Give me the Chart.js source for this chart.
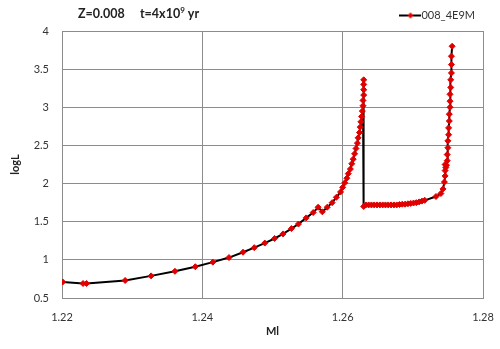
<!DOCTYPE html>
<html>
<head>
<meta charset="utf-8">
<script src="https://cdn.jsdelivr.net/npm/chart.js@4"></script>
<style>
  html, body { margin: 0; padding: 0; background: #fff; }
  #wrap { width: 500px; height: 349px; }
</style>
</head>
<body>
<div id="wrap"><canvas id="chart" width="500" height="349"></canvas></div>
<script>
// Mass (Ml) and luminosity (logL) along the track
const massValues = [
    1.2201, 1.2230, 1.2235, 1.2290, 1.2327, 1.2361, 1.2390, 1.2415, 1.2438, 1.2458,
    1.2474, 1.2489, 1.2503, 1.2515, 1.2527, 1.2537, 1.2548, 1.2558, 1.2565, 1.2571,
    1.2578, 1.2585, 1.2591,
    1.2597, 1.2600, 1.2603, 1.2606, 1.2608, 1.2611, 1.2613, 1.2615, 1.2617, 1.2619,
    1.2621, 1.2622, 1.2624, 1.2625, 1.2626, 1.2627, 1.2628, 1.2629, 1.2629, 1.2630,
    1.2630, 1.2630, 1.2630,
    1.2630, 1.2633,
    1.2637, 1.2641, 1.2645, 1.2649, 1.2653, 1.2657, 1.2661, 1.2665, 1.2669, 1.2673,
    1.2677, 1.2681, 1.2685, 1.2689, 1.2693, 1.2697, 1.2701, 1.2705, 1.2709, 1.2713,
    1.2717,
    1.2733, 1.2740, 1.2743, 1.2745, 1.2746, 1.2746, 1.2747, 1.2746, 1.2748, 1.2749,
    1.2749, 1.2750, 1.2750, 1.2751, 1.2751, 1.2752, 1.2752, 1.2753, 1.2753, 1.2753,
    1.2754, 1.2754, 1.2755, 1.2755, 1.2755, 1.2756
];
const logLValues = [
    0.71, 0.69, 0.69, 0.73, 0.79, 0.85, 0.91, 0.97, 1.03, 1.10,
    1.16, 1.22, 1.28, 1.34, 1.41, 1.47, 1.55, 1.62, 1.69, 1.63,
    1.69, 1.75, 1.82,
    1.89, 1.95, 2.01, 2.07, 2.13, 2.19, 2.26, 2.32, 2.39, 2.46,
    2.53, 2.60, 2.67, 2.74, 2.81, 2.88, 2.95, 3.02, 3.09, 3.16,
    3.23, 3.30, 3.36,
    1.70, 1.72,
    1.72, 1.72, 1.72, 1.72, 1.72, 1.72, 1.72, 1.72, 1.72, 1.72,
    1.72, 1.725, 1.73, 1.73, 1.735, 1.74, 1.745, 1.75, 1.76, 1.77,
    1.78,
    1.83, 1.87, 1.93, 2.02, 2.10, 2.17, 2.21, 2.25, 2.24, 2.30,
    2.38, 2.47, 2.56, 2.64, 2.73, 2.82, 2.91, 3.00, 3.08, 3.17,
    3.26, 3.36, 3.45, 3.56, 3.67, 3.80
];
const seriesName = '008_4E9M';
const xTicks = [1.22, 1.24, 1.26, 1.28];
const yTicks = [0.5, 1, 1.5, 2, 2.5, 3, 3.5, 4];

const FONT = 'Lato, "Open Sans", sans-serif';
const TEXT = '#333333';
const GRID = '#8c8c8c';

// legend symbol: black line with a red diamond in the middle
function legendSymbol() {
    const c = document.createElement('canvas');
    c.width = 22; c.height = 8;
    const g = c.getContext('2d');
    g.strokeStyle = '#000'; g.lineWidth = 2;
    g.beginPath(); g.moveTo(0, 4); g.lineTo(22, 4); g.stroke();
    g.fillStyle = '#e00000';
    g.beginPath(); g.moveTo(11, 1); g.lineTo(14, 4); g.lineTo(11, 7); g.lineTo(8, 4); g.closePath(); g.fill();
    return c;
}

// bold title with superscript, top-left
const titlePlugin = {
    id: 'trackTitle',
    afterDraw(chart) {
        const ctx = chart.ctx;
        ctx.save();
        ctx.fillStyle = '#222';
        ctx.textBaseline = 'alphabetic';
        ctx.font = 'bold 12.5px ' + FONT;
        let x = 78, y = 18;
        const part1 = 'Z=0.008     t=4x10';
        ctx.fillText(part1, x, y);
        x += ctx.measureText(part1).width;
        ctx.font = 'bold 8px ' + FONT;
        ctx.fillText('9', x, y - 5);
        x += ctx.measureText('9').width;
        ctx.font = 'bold 12.5px ' + FONT;
        ctx.fillText(' yr', x, y);
        ctx.restore();
    }
};

const points = massValues.map((m, i) => ({ x: m, y: logLValues[i] }));

new Chart(document.getElementById('chart').getContext('2d'), {
    type: 'scatter',
    data: {
        datasets: [{
            label: seriesName,
            data: points,
            showLine: true,
            borderColor: '#000000',
            borderWidth: 2,
            pointStyle: 'rectRot',
            pointRadius: 3,
            pointBackgroundColor: '#e00000',
            pointBorderColor: '#e00000',
            pointBorderWidth: 1,
            tension: 0
        }]
    },
    plugins: [titlePlugin],
    options: {
        responsive: false,
        animation: false,
        layout: { padding: { top: 2, right: 17, bottom: 0, left: 0 } },
        plugins: {
            legend: {
                position: 'top',
                align: 'end',
                labels: {
                    font: { family: FONT, size: 11 },
                    color: TEXT,
                    padding: 8,
                    usePointStyle: true,
                    generateLabels: (chart) => [{
                        text: seriesName,
                        pointStyle: legendSymbol(),
                        fillStyle: '#e00000',
                        strokeStyle: '#000',
                        fontColor: TEXT,
                        datasetIndex: 0
                    }]
                }
            },
            tooltip: { enabled: false }
        },
        scales: {
            x: {
                type: 'linear',
                min: 1.22,
                max: 1.28,
                afterBuildTicks: (scale) => { scale.ticks = xTicks.map(v => ({ value: v })); },
                afterFit: (scale) => {
                    scale.height = 51;
                    scale.paddingLeft = 0;
                    scale.paddingRight = 0;
                },
                ticks: {
                    font: { family: FONT, size: 11 },
                    color: TEXT,
                    padding: 13,
                    callback: (v) => v.toFixed(2)
                },
                grid: { color: GRID, drawTicks: false },
                border: { color: GRID },
                title: {
                    display: true,
                    text: 'Ml',
                    font: { family: FONT, size: 11, weight: 'bold' },
                    color: '#222',
                    padding: { top: 0, bottom: 11 }
                }
            },
            y: {
                type: 'linear',
                min: 0.5,
                max: 4,
                afterBuildTicks: (scale) => { scale.ticks = yTicks.map(v => ({ value: v })); },
                afterFit: (scale) => { scale.width = 62; },
                ticks: {
                    font: { family: FONT, size: 11 },
                    color: TEXT,
                    padding: 13,
                    callback: (v) => String(v)
                },
                grid: { color: GRID, drawTicks: false },
                border: { color: GRID },
                title: {
                    display: true,
                    text: 'logL',
                    font: { family: FONT, size: 11, weight: 'bold' },
                    color: '#222',
                    padding: { top: 9, bottom: 0 }
                }
            }
        }
    }
});
</script>
</body>
</html>
